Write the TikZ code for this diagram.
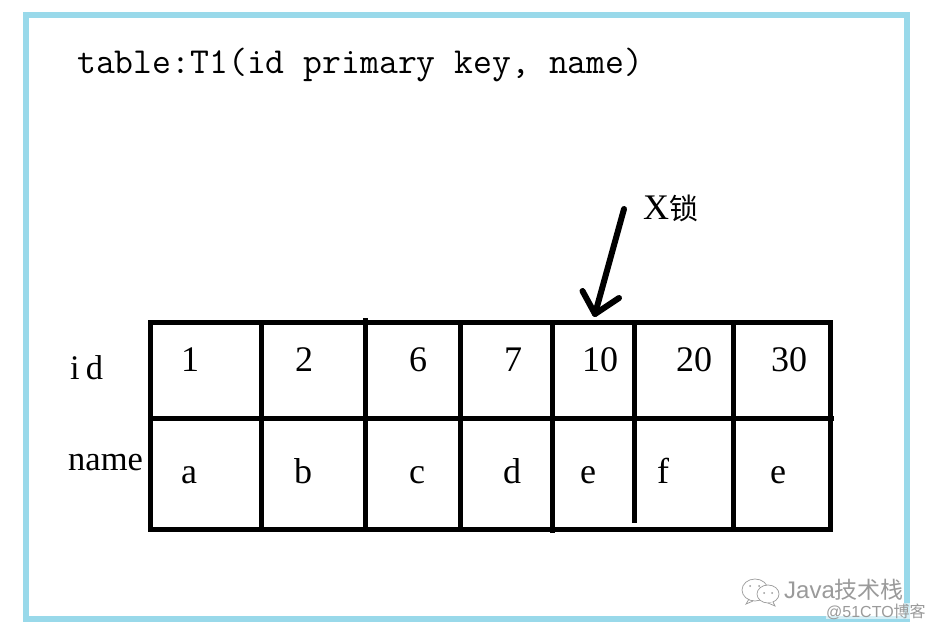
\documentclass[tikz,border=0pt]{standalone}
\usepackage{fontspec}
\setmainfont{Liberation Serif}
\newfontfamily\cjkserif{Noto Sans CJK SC}
\newfontfamily\wmfont{Liberation Sans}
\definecolor{frameblue}{HTML}{99D9EA}
\definecolor{wmgray}{HTML}{9A9A9A}
\tikzset{
  gridline/.style={line width=5pt,black},
  arrowline/.style={line width=6pt,black,line cap=round,line join=round},
  cell/.style={inner sep=0pt,anchor=base,font=\fontsize{36}{36}\selectfont},
  rowlabel/.style={inner sep=0pt,anchor=base west,font=\fontsize{34.5}{36}\selectfont},
  wmark/.style={inner sep=0pt,anchor=base west,text=wmgray},
}
\begin{document}
\begin{tikzpicture}[x=1pt,y=-1pt]
\useasboundingbox (0,0) rectangle (933,631);
\fill[white] (0,0) rectangle (933,631);
\draw[frameblue,line width=6pt] (25.5,15) rectangle (907,619);
\node[inner sep=0pt,anchor=base west,font=\ttfamily\fontsize{36.65}{37}\selectfont] (title) at (77,73.5) {table:T1(id primary key, name)};
% grid
\draw[gridline] (150,322) rectangle (830,529);
\draw[gridline] (150,418) -- (834,418);
\draw[gridline] (261,322) -- (261,529);
\draw[gridline] (365,318) -- (365,529);
\draw[gridline] (460,322) -- (460,529);
\draw[gridline] (552,322) -- (552,533);
\draw[gridline] (634,324) -- (634,523);
\draw[gridline] (733,322) -- (733,529);
% arrow
\coordinate (tail) at (624,209);
\coordinate (tip) at (595,314);
\coordinate (headl) at (582.5,291);
\coordinate (headr) at (619,298);
\draw[arrowline] (tail) -- (tip);
\draw[arrowline] (headl) -- (tip) -- (headr);
\node[inner sep=0pt,anchor=base west,font=\fontsize{36}{36}\selectfont] (xlock) at (643,219) {X{\cjkserif\fontsize{29}{29}\selectfont 锁}};
% labels
\node[rowlabel] (idl) at (70,379) {i\hspace{6pt}d};
\node[rowlabel] (namel) at (68,470) {name};
\foreach \n/\x/\t in {c1/190/1,c2/304/2,c3/418/6,c4/513/7,c5/600/10,c6/694/20,c7/789/30}
  \node[cell] (\n) at (\x,371) {\t};
\foreach \n/\x/\t in {d1/189/a,d2/303/b,d3/417/c,d4/512/d,d5/588/e,d6/663/f,d7/778/e}
  \node[cell] (\n) at (\x,483) {\t};
% watermark
\draw[wmgray,line width=.7pt,fill=white] (755,590) ellipse (13 and 11);
\draw[wmgray,line width=.7pt,fill=white] (768,594) ellipse (11 and 9);
\draw[wmgray,line width=.7pt] (749,599) -- (746,604) -- (753,601);
\draw[wmgray,line width=.7pt,fill=white] (773,602) -- (775,606) -- (768,603);
\fill[wmgray] (750,586) circle (1) (759,586) circle (1) (764,593) circle (1) (772,593) circle (1);
\node[wmark,font=\wmfont\fontsize{24}{24}\selectfont] (wm1) at (784,598) {Java{\cjkserif\fontsize{23}{23}\selectfont 技术栈}};
\node[wmark,font=\wmfont\fontsize{16}{16}\selectfont,fill=white,fill opacity=.6,text opacity=1] (wm2) at (826,617) {@51CTO{\cjkserif\fontsize{16}{16}\selectfont 博客}};
\end{tikzpicture}
\end{document}
